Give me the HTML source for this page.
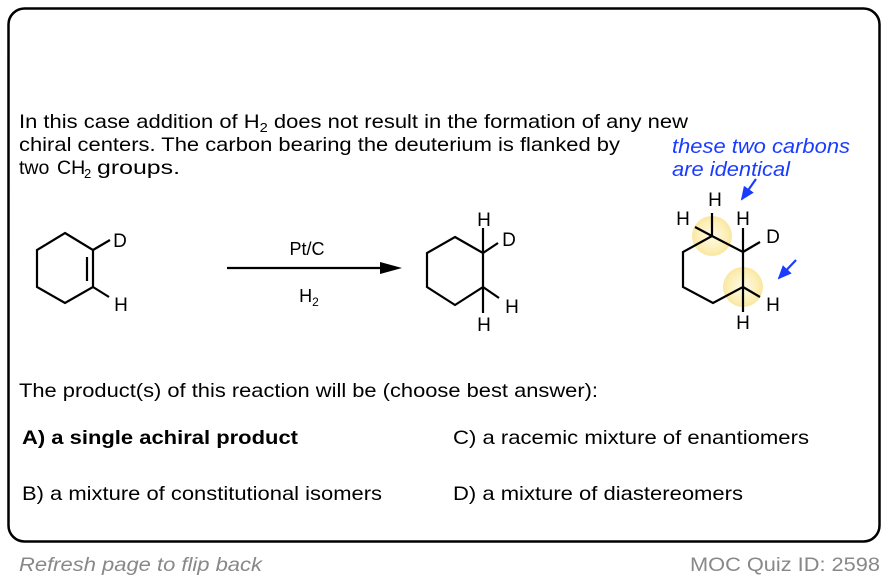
<!DOCTYPE html>
<html><head><meta charset="utf-8"><style>
html,body{margin:0;padding:0;background:#fff;}
svg{display:block;font-family:"Liberation Sans",Arial,sans-serif;}
</style></head><body>
<svg width="888" height="582" viewBox="0 0 888 582" xmlns="http://www.w3.org/2000/svg">
<defs>
<radialGradient id="g" cx="50%" cy="50%" r="50%">
<stop offset="0%" stop-color="#fffbe6"/><stop offset="70%" stop-color="#fcefb8"/><stop offset="100%" stop-color="#fae7a0"/>
</radialGradient>
<marker id="ah" markerWidth="14" markerHeight="12" refX="12" refY="6" orient="auto" markerUnits="userSpaceOnUse">
<path d="M0,0 L14,6 L0,12 Z" fill="#1a3cff"/></marker>
</defs>
<rect x="8.5" y="8.5" width="871" height="533" rx="16" fill="#fff" stroke="#000" stroke-width="2.5"/>

<g font-size="19.5" fill="#000">
<text x="19" y="128" textLength="669" lengthAdjust="spacingAndGlyphs">In this case addition of H<tspan font-size="13" dy="4">2</tspan><tspan font-size="19.5" dy="-4"> does not result in the formation of any new</tspan></text>
<text x="19" y="151" textLength="601" lengthAdjust="spacingAndGlyphs">chiral centers. The carbon bearing the deuterium is flanked by</text>
<text x="19" y="174" font-size="19.5">two</text>
<text x="57" y="174" font-size="19.5">CH</text>
<text x="84" y="178" font-size="13">2</text>
<text x="97" y="174" textLength="83" lengthAdjust="spacingAndGlyphs">groups.</text>
<text x="19" y="397" textLength="579" lengthAdjust="spacingAndGlyphs">The product(s) of this reaction will be (choose best answer):</text>
<text x="22" y="444" font-weight="bold" textLength="276" lengthAdjust="spacingAndGlyphs">A) a single achiral product</text>
<text x="453" y="444" textLength="356" lengthAdjust="spacingAndGlyphs">C) a racemic mixture of enantiomers</text>
<text x="22" y="500" textLength="360" lengthAdjust="spacingAndGlyphs">B) a mixture of constitutional isomers</text>
<text x="453" y="500" textLength="290" lengthAdjust="spacingAndGlyphs">D) a mixture of diastereomers</text>
</g>
<text x="19" y="571" font-size="19.5" font-style="italic" fill="#888" textLength="243" lengthAdjust="spacingAndGlyphs">Refresh page to flip back</text>
<text x="690" y="571" font-size="19.5" fill="#888" textLength="190" lengthAdjust="spacingAndGlyphs">MOC Quiz ID: 2598</text>

<g font-size="20" font-style="italic" fill="#1a3cff">
<text x="672" y="153" textLength="178" lengthAdjust="spacingAndGlyphs">these two carbons</text>
<text x="672" y="176" textLength="118" lengthAdjust="spacingAndGlyphs">are identical</text>
</g>

<g stroke="#000" stroke-width="2.2" fill="none" stroke-linejoin="miter">
<polygon points="65,233 93,250 93,287 65,303 37,287 37,250"/>
<line x1="87" y1="257" x2="87" y2="281"/>
<line x1="93" y1="250" x2="110" y2="240"/>
<line x1="93" y1="287" x2="109" y2="297"/>
<line x1="227" y1="268" x2="385" y2="268"/>
<polygon points="455,237 483,253 483,287 455,305 427,287 427,253"/>
<line x1="483" y1="253" x2="483" y2="228"/>
<line x1="483" y1="253" x2="498" y2="243"/>
<line x1="483" y1="287" x2="483" y2="313"/>
<line x1="483" y1="287" x2="499" y2="298"/>
</g>
<path d="M380,262 L402,268 L380,274 Z" fill="#000"/>

<circle cx="712" cy="236" r="20" fill="url(#g)"/>
<circle cx="743" cy="287" r="20" fill="url(#g)"/>
<g stroke="#000" stroke-width="2.2" fill="none">
<polygon points="712,236 743,252 743,287 713,303 683,287 683,252"/>
<line x1="712" y1="236" x2="712" y2="213"/>
<line x1="712" y1="236" x2="695" y2="227"/>
<line x1="743" y1="252" x2="743" y2="228"/>
<line x1="743" y1="252" x2="760" y2="242"/>
<line x1="743" y1="287" x2="743" y2="312"/>
<line x1="743" y1="287" x2="760" y2="297"/>
</g>
<g stroke="#1a3cff" stroke-width="2.2">
<line x1="756" y1="179" x2="742" y2="199" marker-end="url(#ah)"/>
<line x1="796" y1="260" x2="779" y2="278" marker-end="url(#ah)"/>
</g>

<g font-size="19" fill="#000" text-anchor="middle">
<text x="120" y="247">D</text>
<text x="121" y="311">H</text>
<text x="307" y="255" font-size="18">Pt/C</text>
<text x="309" y="302" font-size="18">H<tspan font-size="12" dy="4">2</tspan></text>
<text x="484" y="226">H</text>
<text x="509" y="246">D</text>
<text x="484" y="331">H</text>
<text x="512" y="313">H</text>
<text x="715" y="206">H</text>
<text x="683" y="225">H</text>
<text x="743" y="225">H</text>
<text x="773" y="243">D</text>
<text x="743" y="329">H</text>
<text x="773" y="311">H</text>
</g>
</svg>
</body></html>
